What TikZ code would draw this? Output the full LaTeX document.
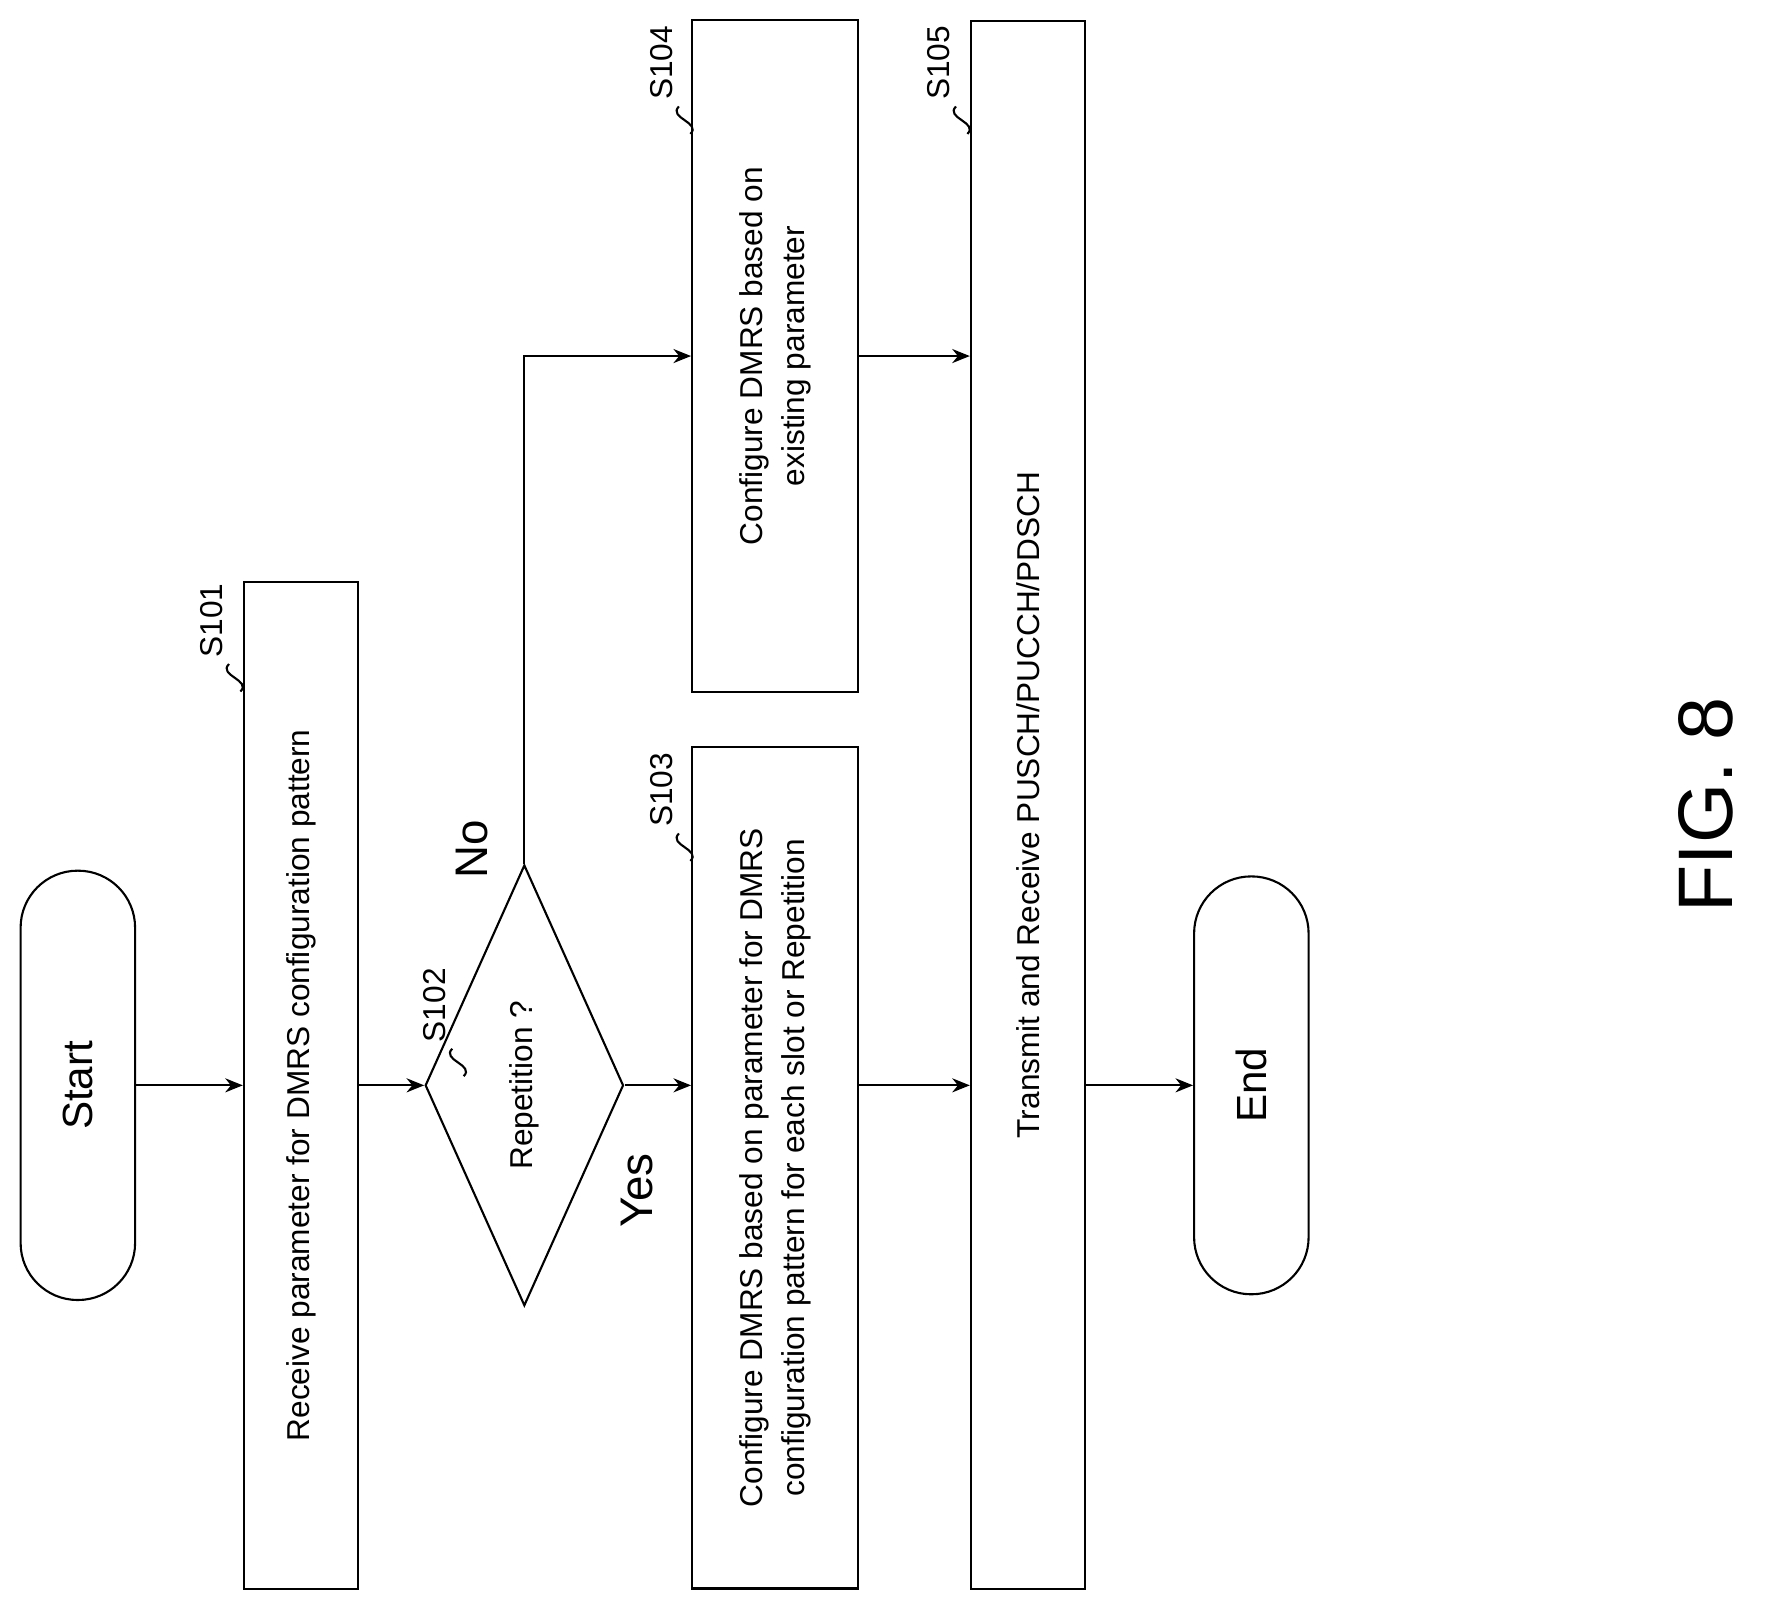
\documentclass[tikz,border=0pt]{standalone}
\usepackage{fontspec}
\setmainfont{Liberation Sans}
\usetikzlibrary{arrows.meta,shapes.geometric}
\begin{document}
\begin{tikzpicture}[x=0.1145mm,y=-0.1145mm,
    box/.style={
      draw=black,
      rotate=90,
      inner sep=2pt,
      align=center,
      line width=0.6pt,
      font=\fontsize{9}{12}\selectfont},
    term/.style={
      box,
      rounded corners=5.7mm,
      font=\fontsize{12}{14}\selectfont},
    step_lbl/.style={
      rotate=90,
      font=\fontsize{9}{11}\selectfont},
    arrow_flow/.style={
      -{Stealth[length=5pt,width=4pt]},
      line width=0.6pt}
]
  \useasboundingbox (0,0) rectangle (1560,1398);
  %terminals
  \node[term,minimum width=375*0.1145mm,minimum height=100*0.1145mm] (start) at (68,948) {Start};
  \node[term,minimum width=365*0.1145mm,minimum height=100*0.1145mm] (end) at (1093,948) {End};

  %steps
  \node[box,minimum width=880*0.1145mm,minimum height=100*0.1145mm] (s101) at (263,948) {Receive parameter for DMRS configuration pattern};
  \node[box,diamond,inner sep=0pt,minimum width=385*0.1145mm,minimum height=97*0.1145mm] (s102) at (458,948) {Repetition ?};
  \node[box,minimum width=735*0.1145mm,minimum height=145*0.1145mm] (s103) at (677,1020) {Configure DMRS based on parameter for DMRS\\configuration pattern for each slot or Repetition};
  \node[box,minimum width=587*0.1145mm,minimum height=145*0.1145mm] (s104) at (677,311) {Configure DMRS based on\\existing parameter};
  \node[box,minimum width=1370*0.1145mm,minimum height=100*0.1145mm] (s105) at (898,703) {Transmit and Receive PUSCH/PUCCH/PDSCH};

  %connectors
  \draw[arrow_flow] (start.south) -- (s101.north);
  \draw[arrow_flow] (s101.south) -- (s102.north);
  \draw[arrow_flow] (s102.south) -- (s102.south -| s103.north);
  \draw[arrow_flow] (s103.south |- s102.south) -- (s102.south -| s105.north);
  \draw[arrow_flow] (s105.south |- s102.south) -- (end.north);
  \draw[arrow_flow] (s102.east) -- (s102.east |- s104.north) -- (s104.north);
  \draw[arrow_flow] (s104.south) -- (s104.south -| s105.north);

  %branch labels
  \node[rotate=90,font=\fontsize{13}{15}\selectfont] (yes) at (556,1040) {Yes};
  \node[rotate=90,font=\fontsize{13}{15}\selectfont] (no) at (412,742) {No};

  %step labels
  \foreach \nm/\x/\y in {S101/185/542, S102/380/878, S103/578/690, S104/578/55, S105/820/55}{
    \node[step_lbl] (lbl\nm) at (\x,\y) {\nm};
    \draw[line width=0.6pt] (\x+15,\y+38) .. controls (\x+5,\y+48) and (\x+35,\y+52) .. (\x+25,\y+62);
  }

  \node[rotate=90,font=\fontsize{22}{24}\selectfont] (fig) at (1490,703) {FIG. 8};
\end{tikzpicture}
\end{document}
